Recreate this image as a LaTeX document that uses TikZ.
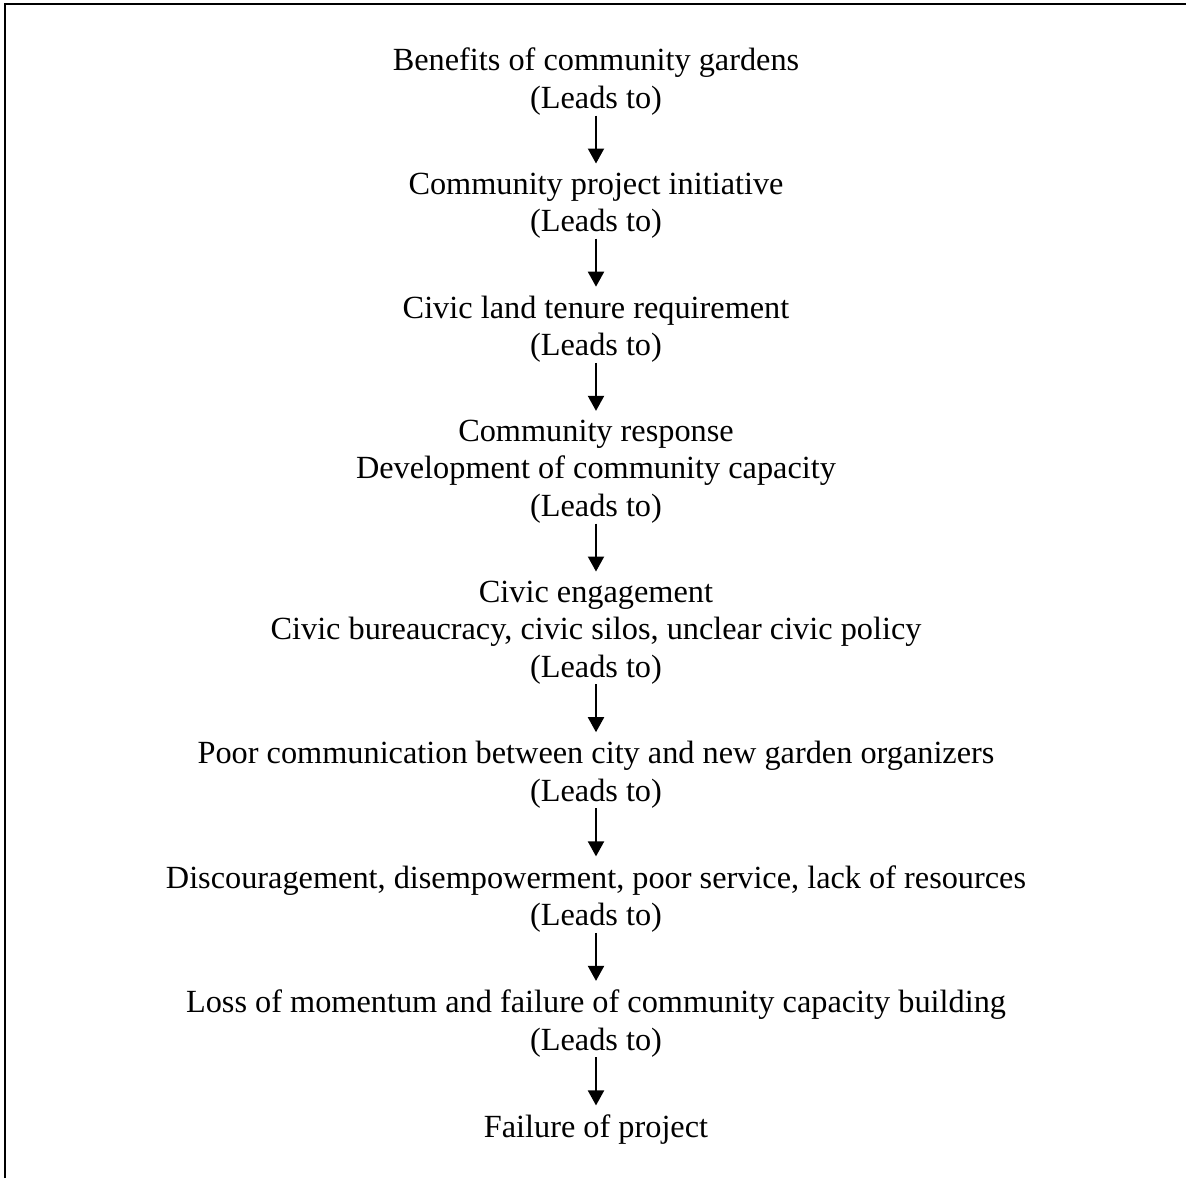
\documentclass[tikz,border=0pt]{standalone}
\usepackage{fontspec}
\setmainfont{Liberation Serif}
\usetikzlibrary{positioning,arrows.meta}

\tikzset{
  stage/.style={align=center, inner sep=0pt, font=\fontsize{32.3}{37.5}\selectfont},
  leadsto/.style={-{Triangle[length=15pt,width=16pt]}, line width=2pt, shorten >=9pt},
}

\begin{document}
\begin{tikzpicture}[x=1pt,y=1pt,node distance=57pt]
    \useasboundingbox (0,0) rectangle (1186,-1178);
    \draw[line width=2pt] (5,-1178) -- (5,-4) -- (1186,-4);
    \node[stage,anchor=north] (benefits) at (596,-48) {Benefits of community gardens\\(Leads to)};
    \node[stage,below=of benefits] (initiative) {Community project initiative\\(Leads to)};
    \node[stage,below=of initiative] (tenure) {Civic land tenure requirement\\(Leads to)};
    \node[stage,below=of tenure] (response) {Community response\\Development of community capacity\\(Leads to)};
    \node[stage,below=of response] (engagement) {Civic engagement\\Civic bureaucracy, civic silos, unclear civic policy\\(Leads to)};
    \node[stage,below=of engagement] (communication) {Poor communication between city and new garden organizers\\(Leads to)};
    \node[stage,below=of communication] (discouragement) {Discouragement, disempowerment, poor service, lack of resources\\(Leads to)};
    \node[stage,below=of discouragement] (momentum) {Loss of momentum and failure of community capacity building\\(Leads to)};
    \node[stage,below=of momentum] (failure) {Failure of project};
    \draw[leadsto] (benefits) -- (initiative);
    \draw[leadsto] (initiative) -- (tenure);
    \draw[leadsto] (tenure) -- (response);
    \draw[leadsto] (response) -- (engagement);
    \draw[leadsto] (engagement) -- (communication);
    \draw[leadsto] (communication) -- (discouragement);
    \draw[leadsto] (discouragement) -- (momentum);
    \draw[leadsto] (momentum) -- (failure);
    % \draw[help lines] (0,0) grid[step=100] (1186,-1178);
\end{tikzpicture}
\end{document}
